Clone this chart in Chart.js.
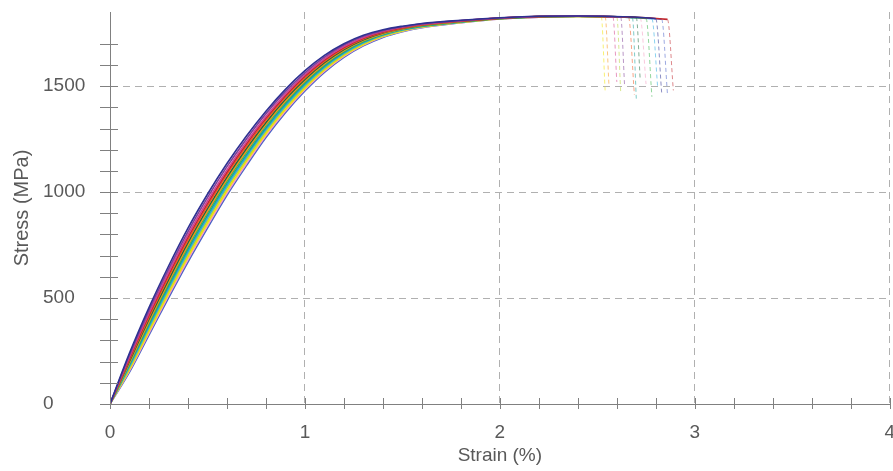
<!DOCTYPE html>
<html>
<head>
<meta charset="utf-8">
<script src="https://cdn.jsdelivr.net/npm/chart.js@4/dist/chart.umd.min.js"></script>
<style>
  html, body { margin: 0; padding: 0; background: #fff; overflow: hidden; }
  #wrap { width: 893px; height: 471px; overflow: hidden; }
</style>
</head>
<body>
<div id="wrap"><canvas id="chart" width="912" height="471"></canvas></div>
<script>
// strain (%) sample points shared by every specimen curve
const strain = [0, 0.1, 0.2, 0.3, 0.4, 0.5, 0.6, 0.7, 0.8, 0.9, 1.0, 1.1, 1.2, 1.3, 1.4, 1.5, 1.6, 1.8, 2.0, 2.2, 2.4];

// stress (MPa) per specimen
const curve01 = [0, 240, 455, 650, 830, 990, 1135, 1265, 1382, 1485, 1573, 1645, 1700, 1740, 1766, 1783, 1796, 1811, 1823, 1830, 1831];
const curve02 = [0, 231, 442, 635, 814, 974, 1120, 1251, 1370, 1474, 1563, 1637, 1694, 1735, 1762, 1780, 1794, 1810, 1822, 1830, 1831];
const curve03 = [0, 222, 429, 620, 798, 958, 1105, 1237, 1357, 1463, 1554, 1629, 1687, 1730, 1759, 1778, 1792, 1809, 1822, 1829, 1831];
const curve04 = [0, 215, 419, 609, 786, 946, 1094, 1227, 1348, 1455, 1547, 1623, 1682, 1726, 1756, 1776, 1791, 1808, 1821, 1829, 1830];
const curve05 = [0, 209, 410, 598, 774, 934, 1083, 1216, 1339, 1447, 1539, 1617, 1678, 1723, 1753, 1774, 1789, 1807, 1821, 1829, 1830];
const curve06 = [0, 202, 400, 586, 762, 922, 1071, 1206, 1329, 1438, 1532, 1611, 1673, 1719, 1751, 1772, 1788, 1806, 1820, 1828, 1830];
const curve07 = [0, 195, 390, 575, 750, 910, 1060, 1195, 1320, 1430, 1525, 1605, 1668, 1715, 1748, 1770, 1786, 1805, 1820, 1828, 1830];
const curve08 = [0, 190, 383, 567, 742, 902, 1052, 1188, 1314, 1424, 1520, 1601, 1665, 1712, 1746, 1769, 1785, 1804, 1820, 1828, 1830];
const curve09 = [0, 184, 374, 556, 730, 890, 1041, 1177, 1304, 1416, 1513, 1595, 1660, 1709, 1743, 1767, 1783, 1803, 1819, 1827, 1830];
const curve10 = [0, 177, 364, 545, 718, 878, 1030, 1167, 1295, 1408, 1506, 1589, 1655, 1705, 1741, 1765, 1782, 1803, 1819, 1827, 1830];
const curve11 = [0, 170, 354, 534, 706, 866, 1019, 1156, 1286, 1400, 1499, 1583, 1650, 1701, 1738, 1763, 1780, 1802, 1818, 1827, 1829];
const curve12 = [0, 163, 344, 522, 694, 854, 1007, 1146, 1277, 1391, 1491, 1577, 1646, 1697, 1735, 1761, 1779, 1801, 1818, 1827, 1829];
const curve13 = [0, 157, 335, 511, 682, 842, 996, 1135, 1267, 1383, 1484, 1571, 1641, 1694, 1733, 1759, 1777, 1800, 1817, 1826, 1829];
const curve14 = [0, 150, 325, 500, 670, 830, 985, 1125, 1258, 1375, 1477, 1565, 1636, 1690, 1730, 1757, 1776, 1799, 1817, 1826, 1829];

const curves = [curve01, curve02, curve03, curve04, curve05, curve06, curve07,
                curve08, curve09, curve10, curve11, curve12, curve13, curve14];

// fracture point and end of the load drop for each specimen
const failStrain = [2.80, 2.62, 2.58, 2.86, 2.66, 2.70, 2.54, 2.75, 2.68, 2.78, 2.60, 2.52, 2.72, 2.83];
const failStress = [1818, 1826, 1827, 1815, 1825, 1824, 1828, 1820, 1823, 1818, 1826, 1828, 1822, 1816];
const dropStrain = [2.83, 2.64, 2.60, 2.89, 2.69, 2.72, 2.56, 2.78, 2.70, 2.81, 2.62, 2.54, 2.75, 2.86];
const dropStress = [1470, 1500, 1520, 1480, 1460, 1530, 1500, 1450, 1440, 1490, 1470, 1480, 1510, 1460];

const xMajor = [1, 2, 3, 4];
const yMajor = [500, 1000, 1500];
const yLabels = [0, 500, 1000, 1500];

const colors = ['#2e3192', '#7f3f98', '#d4418e', '#c1272d', '#f15a24', '#1b6b3a', '#f7931e',
                '#39b54a', '#16a09a', '#29abe2', '#b6d334', '#f2e500', '#f49ac1', '#4a63c8'];

function fade(hex, a) {
  const n = parseInt(hex.slice(1), 16);
  return `rgba(${n >> 16}, ${(n >> 8) & 255}, ${n & 255}, ${a})`;
}

const isMajor = (v, list) => list.some(m => Math.abs(m - v) < 1e-6);

const datasets = curves.map((stress, i) => {
  const pts = strain.map((x, j) => ({ x: x, y: stress[j] }));
  pts.push({ x: failStrain[i], y: failStress[i] });
  pts.push({ x: dropStrain[i], y: dropStress[i] });
  const last = pts.length - 1;
  return {
    label: 'Specimen ' + (i + 1),
    data: pts,
    borderColor: colors[i],
    borderWidth: 1.6,
    pointRadius: 0,
    cubicInterpolationMode: 'monotone',
    segment: {
      borderColor: ctx => ctx.p1DataIndex === last ? fade(colors[i], 0.55) : undefined,
      borderDash: ctx => ctx.p1DataIndex === last ? [4, 3] : undefined,
      borderWidth: ctx => ctx.p1DataIndex === last ? 1 : undefined
    }
  };
});

// small tick marks that cross the axis lines
const crossTicks = {
  id: 'crossTicks',
  afterDraw(chart) {
    const c = chart.ctx;
    const xs = chart.scales.x, ys = chart.scales.y;
    c.save();
    c.strokeStyle = '#808080';
    c.lineWidth = 1;
    c.beginPath();
    xs.ticks.forEach(t => {
      const px = Math.round(xs.getPixelForValue(t.value)) + 0.5;
      c.moveTo(px, xs.top - 6);
      c.lineTo(px, xs.top + 5);
    });
    ys.ticks.forEach(t => {
      const py = Math.round(ys.getPixelForValue(t.value)) + 0.5;
      c.moveTo(ys.right - 10, py);
      c.lineTo(ys.right + 8, py);
    });
    c.stroke();
    c.restore();
  }
};

const textColor = '#595959';
const fontFamily = '"Liberation Sans", Arial, sans-serif';

new Chart(document.getElementById('chart'), {
  type: 'line',
  data: { datasets: datasets },
  plugins: [crossTicks],
  options: {
    responsive: false,
    animation: false,
    layout: { padding: { left: 43, right: 22, top: 12, bottom: 0 } },
    plugins: { legend: { display: false }, tooltip: { enabled: false } },
    scales: {
      x: {
        type: 'linear',
        min: 0,
        max: 4,
        afterFit: s => { s.height = 67; },
        ticks: {
          stepSize: 0.2,
          padding: 17,
          color: textColor,
          font: { family: fontFamily, size: 19 },
          maxRotation: 0,
          autoSkip: false,
          callback: v => Math.abs(v - Math.round(v)) < 1e-6 ? String(Math.round(v)) : ''
        },
        grid: {
          drawTicks: false,
          color: ctx => ctx.tick && isMajor(ctx.tick.value, xMajor) ? '#b0b0b0' : 'rgba(0,0,0,0)',
          lineWidth: 1
        },
        border: {
          color: '#808080',
          width: 1,
          dash: ctx => ctx.tick ? [7, 5] : []
        },
        title: {
          display: true,
          text: 'Strain (%)',
          color: textColor,
          font: { family: fontFamily, size: 19 },
          padding: { top: 0, bottom: 4 }
        }
      },
      y: {
        type: 'linear',
        min: 0,
        max: 1850,
        afterFit: s => { s.width = 67; },
        afterBuildTicks: s => { s.ticks = s.ticks.filter(t => t.value % 100 === 0); },
        ticks: {
          stepSize: 100,
          crossAlign: 'far',
          padding: 0,
          color: textColor,
          font: { family: fontFamily, size: 19 },
          autoSkip: false,
          callback: v => yLabels.includes(v) ? String(v) : ''
        },
        grid: {
          drawTicks: false,
          color: ctx => ctx.tick && isMajor(ctx.tick.value, yMajor) ? '#b0b0b0' : 'rgba(0,0,0,0)',
          lineWidth: 1
        },
        border: {
          color: '#808080',
          width: 1,
          dash: ctx => ctx.tick ? [7, 5] : []
        },
        title: {
          display: true,
          text: 'Stress (MPa)',
          color: textColor,
          font: { family: fontFamily, size: 20 },
          padding: { top: -33, bottom: 0 }
        }
      }
    }
  }
});
</script>
</body>
</html>
